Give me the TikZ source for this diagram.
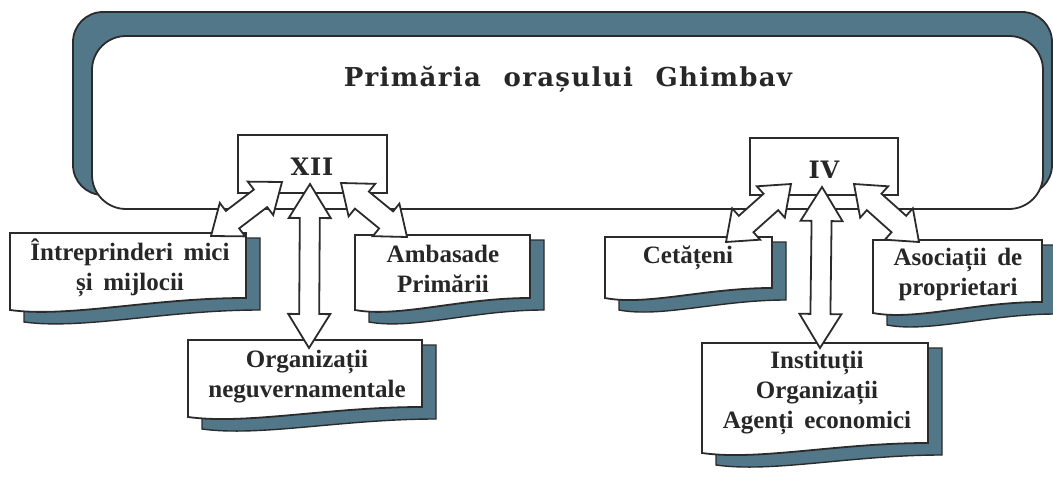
\documentclass[tikz,border=0pt]{standalone}
\usepackage{fontspec}
\setmainfont{Liberation Serif}
\newfontfamily\titlefont[LetterSpace=5,WordSpace=2.2]{DejaVu Serif}
\newfontfamily\romfont[LetterSpace=3]{DejaVu Serif}
\newfontfamily\lblfont[WordSpace=1.7]{Liberation Serif}
\usetikzlibrary{calc}
\definecolor{rim}{HTML}{527789}
\definecolor{ink}{HTML}{2B2B2B}
\tikzset{
  outl/.style={draw=ink,line width=1.8},
  arr/.style={fill=white,draw=ink,line width=1.8,line join=miter},
  lbl/.style={font=\lblfont\bfseries\fontsize{25}{30}\selectfont,anchor=base,inner sep=0,text=ink!90!black},
  ttl/.style={font=\titlefont\bfseries\fontsize{26}{30}\selectfont,anchor=base,inner sep=0,text=ink!90!black},
  roman/.style={font=\romfont\bfseries\fontsize{24}{28}\selectfont,anchor=base,inner sep=0,text=ink!90!black}
}
% double block arrow: A, B, head length, head half width, shaft half width
\newcommand\blockarr[5]{%
  \coordinate (ba1) at ($(#1)!#3!(#2)$);
  \coordinate (bb1) at ($(#2)!#3!(#1)$);
  \draw[arr] (#1) -- ($(ba1)!#4!90:(#2)$) -- ($(ba1)!#5!90:(#2)$)
    -- ($(bb1)!#5!-90:(#1)$) -- ($(bb1)!#4!-90:(#1)$) -- (#2)
    -- ($(bb1)!#4!90:(#1)$) -- ($(bb1)!#5!90:(#1)$)
    -- ($(ba1)!#5!-90:(#2)$) -- ($(ba1)!#4!-90:(#2)$) -- cycle;
}
% document box: x0, top, x1, bottom-left y, bottom-right y
\newcommand\docbox[5]{%
  \pgfmathsetmacro\dbw{#3-#1}
  \fill[rim,draw=ink,line width=1.4] ({#1+14},{#2+5}) -- ({#3+14},{#2+5}) -- ({#3+14},{#5+12})
    .. controls ({#1+0.6*\dbw+14},{#5+12}) and ({#1+0.25*\dbw+14},{#4+20}) .. ({#1+14},{#4+12}) -- cycle;
  \filldraw[fill=white,outl] (#1,#2) -- (#3,#2) -- (#3,#5)
    .. controls ({#1+0.6*\dbw},#5) and ({#1+0.25*\dbw},{#4+8}) .. (#1,#4) -- cycle;
}
\begin{document}
\begin{tikzpicture}[x=1pt,y=-1pt]
\useasboundingbox (0,0) rectangle (1053,479);
% main frame
\filldraw[fill=rim,outl,rounded corners=30] (73,12) rectangle (1052,195);
\filldraw[fill=white,outl,rounded corners=34] (92,36) rectangle (1043,209);
\node[ttl] (title) at (568,86) {Primăria orașului Ghimbav};
% roman boxes
\filldraw[fill=white,outl] (238,135) rectangle (387,193);
\node[roman] (xii) at (312,175) {XII};
\filldraw[fill=white,outl] (750,138) rectangle (898,195);
\node[roman] (iv) at (824,178) {IV};
% document boxes
\docbox{10}{233}{246}{310}{298}
\node[lbl] (intr1) at (130,260) {Întreprinderi mici};
\node[lbl] (intr2) at (130,290) {și mijlocii};
\docbox{355}{235}{530}{310}{298}
\node[lbl] (amb1) at (443,262) {Ambasade};
\node[lbl] (amb2) at (443,292) {Primării};
\docbox{188}{340}{422}{417}{407}
\node[lbl] (org1) at (307,367) {Organizații};
\node[lbl] (org2) at (307,397) {neguvernamentale};
\docbox{605}{237}{772}{298}{288}
\node[lbl] (cet) at (688,263) {Cetățeni};
\docbox{873}{240}{1042}{313}{302}
\node[lbl] (aso1) at (958,265) {Asociații de};
\node[lbl] (aso2) at (958,295) {proprietari};
\docbox{702}{343}{928}{453}{443}
\node[lbl] (ins1) at (817,368) {Instituții};
\node[lbl] (ins2) at (817,398) {Organizații};
\node[lbl] (ins3) at (817,428) {Agenți economici};
% arrow end points
\coordinate (xiiL) at (282,182); \coordinate (intrT) at (211,236);
\coordinate (xiiM) at (310,184); \coordinate (orgT) at (309,348);
\coordinate (xiiR) at (341,183); \coordinate (ambT) at (407,237);
\coordinate (ivL) at (791,184); \coordinate (cetT) at (726,242);
\coordinate (ivM) at (822,187); \coordinate (insT) at (820,348);
\coordinate (ivR) at (854,184); \coordinate (asoT) at (919,242);
% arrows
\blockarr{intrT}{xiiL}{27pt}{21pt}{11pt}
\blockarr{xiiM}{orgT}{34pt}{21pt}{10pt}
\blockarr{ambT}{xiiR}{27pt}{21pt}{11pt}
\blockarr{cetT}{ivL}{27pt}{21pt}{11pt}
\blockarr{ivM}{insT}{34pt}{21pt}{10pt}
\blockarr{asoT}{ivR}{27pt}{21pt}{11pt}
\end{tikzpicture}
\end{document}
